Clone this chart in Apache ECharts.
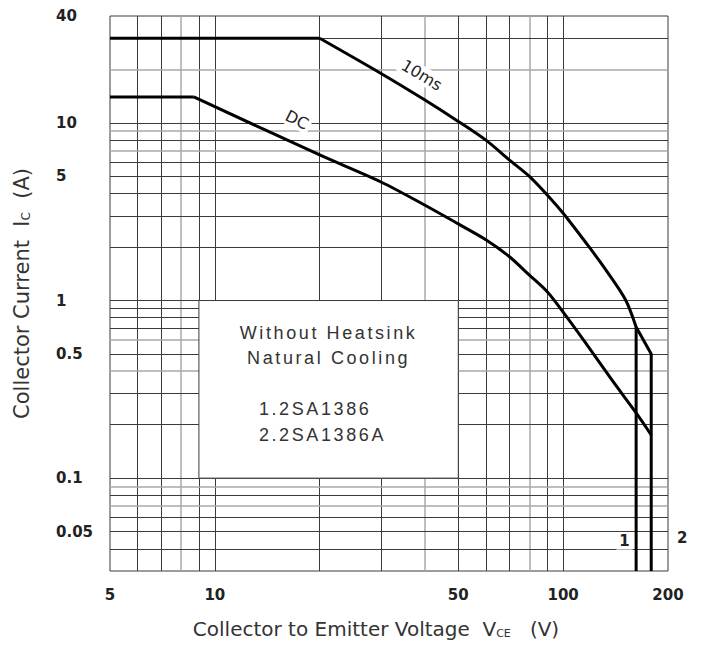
<!DOCTYPE html>
<html><head><meta charset="utf-8">
<script src="https://cdn.jsdelivr.net/npm/echarts@6/dist/echarts.min.js"></script>
<style>
html,body{margin:0;padding:0;background:#fff;}
#c{width:703px;height:652px;}
#c svg text[style*="Liberation"]{letter-spacing:2.6px;}
</style></head><body><div id="c"></div>
<script>
// ---------- data ----------
const xAxisRange = [5, 200];
const yAxisRange = [0.03, 40];
const xTickValues = [5, 10, 50, 100, 200];
const yTickValues = [0.05, 0.1, 0.5, 1, 5, 10, 40];
const xGridValues = [6, 7, 8, 9, 10, 20, 30, 40, 50, 60, 70, 80, 90, 100];
const yGridValues = [0.04, 0.05, 0.06, 0.07, 0.08, 0.09, 0.1, 0.2, 0.3, 0.4, 0.5, 0.6, 0.7, 0.8, 0.9,
                     1, 2, 3, 4, 5, 6, 7, 8, 9, 10, 20, 30];
// 10 ms pulse SOA: flat part, curved part, then straight run to the 2SA1386A VCEO line and down to the floor
const pulse10msV = [5, 20, 30, 40, 50, 60, 70, 80, 90, 100, 119, 133.5, 151, 162, 179, 179];
const pulse10msI = [30, 30, 19.0, 13.5, 10.2, 8.0, 6.2, 5.0, 3.93, 3.1, 1.99, 1.46, 1.01, 0.71, 0.50, 0.03];
// DC SOA
const dcV = [5, 8.7, 20, 30, 40, 50, 60, 70, 80, 90, 100, 116, 138, 162, 179];
const dcI = [14, 14, 6.6, 4.65, 3.45, 2.7, 2.2, 1.77, 1.39, 1.12, 0.86, 0.577, 0.357, 0.233, 0.175];
// VCEO limit of 2SA1386 (line "1")
const vceo1V = [162, 162];
const vceo1I = [0.71, 0.03];
// note box extent (data space)
const noteBoxV = [9, 50];
const noteBoxI = [0.1, 1];
const noteLines = ['Without Heatsink', 'Natural Cooling', '1.2SA1386', '2.2SA1386A'];

// ---------- styling ----------
const FONT = 'DejaVu Sans';
const dark = '#3a3a3a';
const lightX = [8, 40, 80];
const lightY = [20, 9, 7, 0.6, 0.4, 0.09, 0.07];
const gridStyle = (light) => light ? {color: '#a8a8a8', width: 1.5, type: 'solid'} : {color: dark, width: 1, type: 'solid'};
const pair = (xs, ys) => xs.map((v, i) => [v, ys[i]]);
const p10 = pair(pulse10msV, pulse10msI);
const pdc = pair(dcV, dcI);

const chart = echarts.init(document.getElementById('c'), null, {renderer: 'svg'});

const curveLabel = {
  show: true, position: 'inside', formatter: '{b}', color: '#222',
  fontFamily: FONT, fontSize: 16, backgroundColor: '#fff', padding: [1, 3]
};
const curveLine = {color: '#000', width: 3, join: 'round'};
const seg = (name, data, smooth, extra) => Object.assign({
  name: name, type: 'line', z: 10, showSymbol: false, silent: true, smooth: smooth,
  lineStyle: curveLine, data: data
}, extra || {});

const option = {
  animation: false,
  textStyle: {fontFamily: FONT},
  grid: {left: 110, right: 35, top: 16, bottom: 81, show: true,
         borderColor: dark, borderWidth: 1, backgroundColor: '#fff'},
  xAxis: {
    type: 'log', logBase: 10, min: xAxisRange[0], max: xAxisRange[1],
    axisLine: {show: false}, axisTick: {show: false}, splitLine: {show: false},
    axisLabel: {customValues: xTickValues, formatter: v => String(v), margin: 16,
                fontFamily: FONT, fontWeight: 'bold', fontSize: 15, color: '#222'},
    name: 'Collector to Emitter Voltage  V{s|CE}   (V)',
    nameLocation: 'middle', nameGap: 48,
    nameTextStyle: {fontFamily: FONT, fontSize: 20, color: '#333', padding: [0, 26, 0, 0],
      rich: {s: {fontFamily: FONT, fontSize: 11, color: '#333', verticalAlign: 'bottom'}}}
  },
  yAxis: {
    type: 'log', logBase: 10, min: yAxisRange[0], max: yAxisRange[1],
    axisLine: {show: false}, axisTick: {show: false}, splitLine: {show: false},
    axisLabel: {customValues: yTickValues, formatter: v => String(v), margin: 54, align: 'left',
                fontFamily: FONT, fontWeight: 'bold', fontSize: 15, color: '#222'},
    name: 'Collector Current  I{s|C}  (A)',
    nameLocation: 'middle', nameGap: 78,
    nameTextStyle: {fontFamily: FONT, fontSize: 21, color: '#333',
      rich: {s: {fontFamily: FONT, fontSize: 12, color: '#333', verticalAlign: 'bottom'}}}
  },
  series: [
    { // grid lines
      type: 'line', data: [], z: 1, silent: true,
      markLine: {
        silent: true, z: 1, symbol: ['none', 'none'], label: {show: false},
        emphasis: {disabled: true},
        data: xGridValues.map(v => ({xAxis: v, lineStyle: gridStyle(lightX.includes(v))}))
          .concat(yGridValues.map(v => ({yAxis: v, lineStyle: gridStyle(lightY.includes(v))})))
      }
    },
    { // note box
      type: 'line', data: [], z: 2, silent: true,
      markArea: {
        silent: true, z: 3,
        itemStyle: {color: '#fff', borderColor: dark, borderWidth: 1},
        data: [[{coord: [noteBoxV[0], noteBoxI[1]]}, {coord: [noteBoxV[1], noteBoxI[0]]}]]
      }
    },
    // 10 ms curve: flat, smooth bend, straight tail + VCEO drop
    seg('10ms', p10.slice(0, 2), false),
    seg('10ms', p10.slice(1, 14), 0.3, {
      markPoint: {
        silent: true, z: 12, symbol: 'circle', symbolSize: 0, label: curveLabel,
        data: [{name: '10ms', coord: [39.3, 18.6], label: {rotate: -31}}]
      }
    }),
    seg('10ms', p10.slice(13), false, {
      markPoint: {
        silent: true, z: 12, symbol: 'circle', symbolSize: 0, label: curveLabel,
        data: [{name: '2', coord: [179, 0.046], label: {offset: [31, 0], fontWeight: 'bold', fontSize: 15,
                                                        backgroundColor: 'transparent'}}]
      }
    }),
    // DC curve: flat then smooth
    seg('DC', pdc.slice(0, 2), false),
    seg('DC', pdc.slice(1), 0.3, {
      markPoint: {
        silent: true, z: 12, symbol: 'circle', symbolSize: 0, label: curveLabel,
        data: [{name: 'DC', coord: [17.2, 10.4], label: {rotate: -27}}]
      }
    }),
    seg('VCEO 1', pair(vceo1V, vceo1I), false, {
      markPoint: {
        silent: true, z: 12, symbol: 'circle', symbolSize: 0, label: curveLabel,
        data: [{name: '1', coord: [150, 0.0442], label: {fontWeight: 'bold', fontSize: 15}}]
      }
    })
  ]
};
chart.setOption(option);

// note box text, placed relative to the box corners computed by the chart's scales
const tl = chart.convertToPixel({gridIndex: 0}, [noteBoxV[0], noteBoxI[1]]);
const br = chart.convertToPixel({gridIndex: 0}, [noteBoxV[1], noteBoxI[0]]);
const cx = (tl[0] + br[0]) / 2;
const noteFont = '18px "Liberation Sans"';
const mk = (txt, x, y, align) => ({
  type: 'text', x: x, y: y, z: 100, silent: true,
  style: {text: txt, font: noteFont, fill: '#333', textAlign: align, textVerticalAlign: 'middle'}
});
chart.setOption({graphic: [
  mk(noteLines[0], cx, tl[1] + 32, 'center'),
  mk(noteLines[1], cx, tl[1] + 57, 'center'),
  mk(noteLines[2], tl[0] + 60, tl[1] + 108, 'left'),
  mk(noteLines[3], tl[0] + 60, tl[1] + 134, 'left')
]});
</script></body></html>
